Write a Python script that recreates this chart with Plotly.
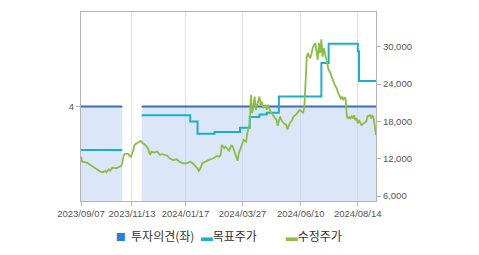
import plotly.graph_objects as go

# ---- data ----
price_dates = [
    "2023-09-07", "2023-09-08", "2023-09-14", "2023-09-18", "2023-09-21", "2023-09-26",
    "2023-10-05", "2023-10-10", "2023-10-12", "2023-10-13", "2023-10-17", "2023-10-18",
    "2023-10-20", "2023-10-25", "2023-10-27", "2023-10-31", "2023-11-01", "2023-11-02",
    "2023-11-03", "2023-11-08", "2023-11-09", "2023-11-10", "2023-11-14", "2023-11-15",
    "2023-11-20", "2023-11-22", "2023-11-24", "2023-11-28", "2023-11-30", "2023-12-04",
    "2023-12-05", "2023-12-07", "2023-12-12", "2023-12-14", "2023-12-18", "2023-12-22",
    "2023-12-27", "2024-01-03", "2024-01-08", "2024-01-10", "2024-01-15", "2024-01-18",
    "2024-01-23", "2024-01-25", "2024-01-31", "2024-02-01", "2024-02-02", "2024-02-06",
    "2024-02-14", "2024-02-16", "2024-02-21", "2024-02-26", "2024-02-28", "2024-02-29",
    "2024-03-04", "2024-03-06", "2024-03-07", "2024-03-12", "2024-03-14", "2024-03-15",
    "2024-03-19", "2024-03-21", "2024-03-22", "2024-03-26", "2024-03-27", "2024-03-28",
    "2024-04-01", "2024-04-02", "2024-04-03", "2024-04-04", "2024-04-05", "2024-04-08",
    "2024-04-09", "2024-04-11", "2024-04-12", "2024-04-16", "2024-04-17", "2024-04-18",
    "2024-04-19", "2024-04-22", "2024-04-24", "2024-04-25", "2024-04-26", "2024-04-30",
    "2024-05-02", "2024-05-07", "2024-05-09", "2024-05-10", "2024-05-14", "2024-05-16",
    "2024-05-20", "2024-05-22", "2024-05-23", "2024-05-27", "2024-05-29", "2024-05-30",
    "2024-06-03", "2024-06-05", "2024-06-07", "2024-06-11", "2024-06-12", "2024-06-13",
    "2024-06-14", "2024-06-17", "2024-06-18", "2024-06-19", "2024-06-20", "2024-06-21",
    "2024-06-24", "2024-06-25", "2024-06-26", "2024-06-27", "2024-06-28", "2024-07-01",
    "2024-07-02", "2024-07-03", "2024-07-04", "2024-07-05", "2024-07-08", "2024-07-09",
    "2024-07-10", "2024-07-11", "2024-07-12", "2024-07-15", "2024-07-16", "2024-07-17",
    "2024-07-18", "2024-07-19", "2024-07-22", "2024-07-23", "2024-07-24", "2024-07-25",
    "2024-07-26", "2024-07-29", "2024-07-30", "2024-07-31", "2024-08-01", "2024-08-02",
    "2024-08-05", "2024-08-06", "2024-08-07", "2024-08-08", "2024-08-09", "2024-08-12",
    "2024-08-13", "2024-08-14", "2024-08-16", "2024-08-19", "2024-08-20", "2024-08-22",
    "2024-08-26", "2024-08-27", "2024-08-29", "2024-08-30", "2024-09-02", "2024-09-03",
    "2024-09-04", "2024-09-05",
]
price_vals = [
    12330, 11530, 11370, 11100, 10620, 10190,
    9920, 9820, 10080, 9820, 10300, 10080,
    10560, 10460, 10620, 10830, 11270, 12440,
    12770, 12770, 12440, 12330, 13300, 14220,
    14590, 14860, 14490, 14220, 13680, 12610,
    13140, 12980, 13140, 12610, 12720, 12490,
    12070, 11800, 11910, 11530, 11270, 11270,
    11530, 11270, 10460, 10030, 10300, 11270,
    11690, 11800, 12070, 12440, 12330, 12600,
    14220, 13680, 13940, 13300, 14220, 13940,
    12880, 11700, 12880, 14220, 14490, 15020,
    14750, 16100, 16900, 17710, 22270, 19320,
    20380, 22000, 19850, 21190, 22000, 20660,
    21190, 20130, 20660, 19850, 20660, 19580,
    19320, 18680, 18240, 17280, 18800, 18240,
    17710, 17440, 16710, 17710, 18240, 18770,
    19050, 19580, 19850, 19580, 19320, 20380,
    25200, 28400, 29000, 28400, 28200, 29200,
    29900, 30300, 30600, 29200, 27900, 30600,
    29000, 31200, 28400, 29800, 28900, 27900,
    27400, 26300, 26000, 25400, 24700, 24400,
    23900, 23600, 23100, 22500, 22000, 21700,
    21900, 21400, 21900, 21600, 18800, 18500,
    18700, 18500, 18800, 18500, 19000, 18200,
    18500, 17700, 18200, 17700, 17400, 17700,
    18000, 18800, 19000, 18500, 19000, 18600,
    17000, 15800,
]

target_dates = [
    "2023-09-07", "2023-11-01", "2023-11-10", "2023-11-23", "2024-01-23", "2024-01-31",
    "2024-02-22", "2024-03-25", "2024-04-04", "2024-04-17", "2024-04-25", "2024-05-13",
    "2024-07-03", "2024-07-11", "2024-08-14", "2024-08-16", "2024-09-05",
]
target_vals = [
    13400, 13400, None, 19000, 18000, 16000,
    16300, 17000, 18700, 19100, 19400, 22000,
    27400, 30500, 29300, 24500, 24500,
]

# investment opinion: two periods with data, a gap between them
opinion_dates_1 = ["2023-09-07", "2023-11-01"]
opinion_vals_1 = [4, 4]
opinion_dates_2 = ["2023-11-23", "2024-09-05"]
opinion_vals_2 = [4, 4]

market_holidays = [
    "2023-09-28", "2023-09-29", "2023-10-02", "2023-10-03", "2023-10-09", "2023-12-25",
    "2023-12-29", "2024-01-01", "2024-02-09", "2024-02-12", "2024-03-01", "2024-04-10",
    "2024-05-01", "2024-05-06", "2024-05-15", "2024-06-06", "2024-08-15",
]
x_tick_dates = ["2023-09-07", "2023-11-13", "2024-01-17", "2024-03-27", "2024-06-10", "2024-08-14"]
right_ticks = [6000, 12000, 18000, 24000, 30000]
left_ticks = [4]

names = ["투자의견(좌)", "목표주가", "수정주가"]

OPINION = "#3c6db5"
FILL = "rgba(190,212,242,0.55)"
TARGET = "#1bb0c8"
PRICE = "#8cbd45"
LEGEND_SQ = "#2b7de0"
AXIS = "#b4b4b4"
TICKC = "#555555"
CLEAR = "rgba(0,0,0,0)"

fig = go.Figure()

for xs, ys in ((opinion_dates_1, opinion_vals_1), (opinion_dates_2, opinion_vals_2)):
    fig.add_trace(go.Scatter(
        x=xs, y=ys, mode="lines", yaxis="y",
        line=dict(color=OPINION, width=2), fill="tozeroy", fillcolor=FILL,
        showlegend=False, hoverinfo="skip",
    ))
fig.add_trace(go.Scatter(
    x=target_dates, y=target_vals, mode="lines", yaxis="y2",
    line=dict(color=TARGET, width=2, shape="hv"), connectgaps=False,
    showlegend=False,
))
fig.add_trace(go.Scatter(
    x=price_dates, y=price_vals, mode="lines", yaxis="y2",
    line=dict(color=PRICE, width=1.8), showlegend=False,
))

# legend entries: the key glyph sits right before the text, as in the reference
legend_keys = [
    ('<span style="font-size:10px;color:%s">■</span>&nbsp; ' % LEGEND_SQ),
    ('<span style="font-size:12px;color:%s">▬</span>' % TARGET),
    ('<span style="font-size:12px;color:%s">▬</span>' % PRICE),
]
for key, nm in zip(legend_keys, names):
    fig.add_trace(go.Scatter(x=[None], y=[None], mode="lines", name=key + nm, yaxis="y2",
                             line=dict(width=0, color=CLEAR)))
# empty spacer entry so the last legend text is not clipped
fig.add_trace(go.Scatter(x=[None], y=[None], mode="lines", name=" ", yaxis="y2",
                         line=dict(width=0, color=CLEAR), hoverinfo="skip"))

tickfont = dict(family="Liberation Sans, Arial, sans-serif", size=9.5, color=TICKC)

fig.update_layout(
    width=479, height=255,
    margin=dict(l=81, r=103, t=12, b=54, autoexpand=False),
    paper_bgcolor="white", plot_bgcolor="white",
    xaxis=dict(
        type="date",
        range=["2023-09-07", "2024-09-05"],
        rangebreaks=[dict(bounds=["sat", "mon"]), dict(values=market_holidays)],
        tickvals=x_tick_dates, tickformat="%Y/%m/%d",
        showgrid=True, gridcolor="#e3e3e3", gridwidth=1,
        showline=True, linecolor=AXIS, linewidth=1, mirror=True,
        ticks="outside", ticklen=4, tickcolor=AXIS,
        tickfont=tickfont, zeroline=False,
    ),
    yaxis=dict(
        range=[3, 5], tickvals=left_ticks, side="left",
        showgrid=False, zeroline=False,
        showline=True, linecolor=AXIS, linewidth=1, mirror=True,
        ticks="outside", ticklen=4, tickcolor=AXIS, tickfont=tickfont,
    ),
    yaxis2=dict(
        range=[5200, 35600], tickvals=right_ticks, tickformat=",",
        overlaying="y", side="right", showgrid=False, zeroline=False,
        showline=False,
        ticks="outside", ticklen=4, tickcolor=AXIS, tickfont=tickfont,
    ),
    legend=dict(
        orientation="h", x=-0.018, xanchor="left", y=-0.185, yanchor="middle",
        font=dict(family="Noto Sans CJK KR", size=12, color="#333333"),
        itemwidth=30, entrywidth=40, bgcolor="rgba(0,0,0,0)",
    ),
    showlegend=True,
)

fig.write_html("out.html")
